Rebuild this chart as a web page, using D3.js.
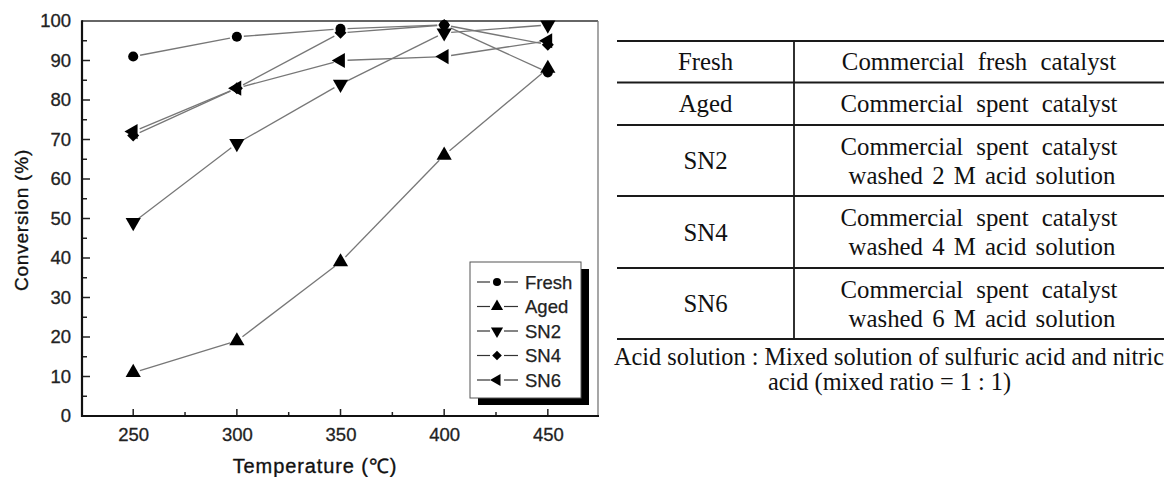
<!DOCTYPE html>
<html><head><meta charset="utf-8">
<script src="https://cdn.jsdelivr.net/npm/d3@7"></script>
<style>
html,body{margin:0;padding:0;background:#fff;}
svg{display:block;}
</style></head>
<body>
<svg id="c" width="1164" height="477"></svg>
<script>
// ---- data ----
const temperatures = [250, 300, 350, 400, 450];
const seriesNames = ["Fresh", "Aged", "SN2", "SN4", "SN6"];
const fresh = [91, 96, 98, 99, 87];
const aged  = [11, 19, 39, 66, 88];
const sn2   = [49, 69, 84, 97, 99];
const sn4   = [71, 83, 97, 99, 94];
const sn6   = [72, 83, 90, 91, 95];
const xTicks = [250, 300, 350, 400, 450];
const yTicks = [0, 10, 20, 30, 40, 50, 60, 70, 80, 90, 100];
const xTitle = "Temperature (℃)";
const yTitle = "Conversion (%)";
const tableLabels = ["Fresh", "Aged", "SN2", "SN4", "SN6"];
const tableDescLine1 = ["Commercial fresh catalyst", "Commercial spent catalyst", "Commercial spent catalyst", "Commercial spent catalyst", "Commercial spent catalyst"];
const tableDescLine2 = ["", "", "washed 2 M acid solution", "washed 4 M acid solution", "washed 6 M acid solution"];
const footnote1 = "Acid solution : Mixed solution of sulfuric acid and nitric";
const footnote2 = "acid (mixed ratio = 1 : 1)";

const seriesValues = [fresh, aged, sn2, sn4, sn6];
const svg = d3.select("#c");

// ---- chart ----
const L = 82, R = 598, T = 21, B = 416;
const x = d3.scaleLinear().domain([225.3, 474.2]).range([L, R]);
const y = d3.scaleLinear().domain([0, 100]).range([B, T]);
const sansFont = "'Liberation Sans', Arial, sans-serif";

// frame top/right
svg.append("line").attr("x1", L).attr("x2", R).attr("y1", T).attr("y2", T).attr("stroke", "#333").attr("stroke-width", 1.6);
svg.append("line").attr("x1", R).attr("x2", R).attr("y1", T).attr("y2", B).attr("stroke", "#777").attr("stroke-width", 1.3);

// axes
const yAxis = d3.axisLeft(y).tickValues(yTicks).tickSize(0).tickPadding(11);
const gy = svg.append("g").attr("transform", `translate(${L},0)`).call(yAxis);
gy.select(".domain").remove();
gy.selectAll("text").attr("font-family", sansFont).attr("font-size", 18.5).attr("fill", "#222")
  .attr("stroke", "#222").attr("stroke-width", 0.3);
const yMinor = d3.range(5, 100, 10);
svg.append("g").selectAll("line").data(yTicks.filter(d => d > 0 && d < 100)).join("line")
  .attr("x1", L).attr("x2", L + 8).attr("y1", d => y(d)).attr("y2", d => y(d)).attr("stroke", "#222").attr("stroke-width", 1.5);
svg.append("g").selectAll("line").data(yMinor).join("line")
  .attr("x1", L).attr("x2", L + 5).attr("y1", d => y(d)).attr("y2", d => y(d)).attr("stroke", "#222").attr("stroke-width", 1.5);

const xAxis = d3.axisBottom(x).tickValues(xTicks).tickFormat(d3.format("d")).tickSize(0).tickPadding(12);
const gx = svg.append("g").attr("transform", `translate(0,${B})`).call(xAxis);
gx.select(".domain").remove();
gx.selectAll("text").attr("font-family", sansFont).attr("font-size", 18.5).attr("fill", "#222")
  .attr("stroke", "#222").attr("stroke-width", 0.3);
svg.append("g").selectAll("line").data(xTicks).join("line")
  .attr("x1", d => x(d)).attr("x2", d => x(d)).attr("y1", B).attr("y2", B - 7).attr("stroke", "#222").attr("stroke-width", 1.5);
svg.append("g").selectAll("line").data([275, 325, 375, 425]).join("line")
  .attr("x1", d => x(d)).attr("x2", d => x(d)).attr("y1", B).attr("y2", B - 4).attr("stroke", "#222").attr("stroke-width", 1.5);

// axis lines (left, bottom)
svg.append("line").attr("x1", L).attr("x2", L).attr("y1", T - 0.8).attr("y2", B + 1).attr("stroke", "#111").attr("stroke-width", 2.2);
svg.append("line").attr("x1", L - 1).attr("x2", R + 1).attr("y1", B).attr("y2", B).attr("stroke", "#111").attr("stroke-width", 2.2);

// titles
svg.append("text").attr("x", 315).attr("y", 473).attr("text-anchor", "middle")
  .attr("font-family", sansFont).attr("font-size", 20).attr("letter-spacing", 0.9).attr("fill", "#111")
  .attr("stroke", "#111").attr("stroke-width", 0.35).text(xTitle);
svg.append("text").attr("transform", "translate(28,220) rotate(-90)").attr("text-anchor", "middle")
  .attr("font-family", sansFont).attr("font-size", 19).attr("letter-spacing", 0.8).attr("fill", "#111")
  .attr("stroke", "#111").attr("stroke-width", 0.35).text(yTitle);

// symbols
const symCircle = d3.symbol().type(d3.symbolCircle).size(80);
const symTri = d3.symbol().type(d3.symbolTriangle).size(100);
const symSq = d3.symbol().type(d3.symbolSquare).size(72);
const markers = [
  {path: symCircle(), rot: 0},
  {path: symTri(), rot: 0},
  {path: symTri(), rot: 180},
  {path: symSq(), rot: 45},
  {path: symTri(), rot: -90}
];

// lines with gaps near markers
const gap = 7;
seriesValues.forEach((vals, si) => {
  const pts = temperatures.map((t, i) => [x(t), y(vals[i])]);
  const segs = [];
  for (let i = 0; i < pts.length - 1; i++) {
    const [x1, y1] = pts[i], [x2, y2] = pts[i + 1];
    const len = Math.hypot(x2 - x1, y2 - y1);
    if (len <= 2 * gap) continue;
    const ux = (x2 - x1) / len, uy = (y2 - y1) / len;
    segs.push([x1 + ux * gap, y1 + uy * gap, x2 - ux * gap, y2 - uy * gap]);
  }
  svg.append("g").selectAll("line").data(segs).join("line")
    .attr("x1", d => d[0]).attr("y1", d => d[1]).attr("x2", d => d[2]).attr("y2", d => d[3])
    .attr("stroke", "#777").attr("stroke-width", 1.3);
});
seriesValues.forEach((vals, si) => {
  svg.append("g").selectAll("path").data(vals).join("path")
    .attr("d", markers[si].path)
    .attr("transform", (d, i) => `translate(${x(temperatures[i])},${y(d)}) rotate(${markers[si].rot})`)
    .attr("fill", "#000");
});

// legend
const lgX = 470, lgY = 262, lgW = 111, lgH = 136;
svg.append("rect").attr("x", lgX + 8).attr("y", lgY + 7).attr("width", lgW).attr("height", lgH).attr("fill", "#000");
svg.append("rect").attr("x", lgX).attr("y", lgY).attr("width", lgW).attr("height", lgH).attr("fill", "#fff").attr("stroke", "#555").attr("stroke-width", 1);
seriesNames.forEach((name, i) => {
  const cy = lgY + 20 + i * 24.5;
  const g = svg.append("g");
  g.append("line").attr("x1", 477).attr("x2", 490).attr("y1", cy).attr("y2", cy).attr("stroke", "#333").attr("stroke-width", 1.2);
  g.append("line").attr("x1", 504).attr("x2", 518).attr("y1", cy).attr("y2", cy).attr("stroke", "#333").attr("stroke-width", 1.2);
  g.append("path").attr("d", markers[i].path).attr("transform", `translate(497,${cy}) rotate(${markers[i].rot}) scale(0.8)`).attr("fill", "#000");
  g.append("text").attr("x", 525).attr("y", cy + 6.5).attr("font-family", sansFont).attr("font-size", 18.5).attr("fill", "#222")
    .attr("stroke", "#222").attr("stroke-width", 0.25).text(name);
});

// ---- table ----
const serif = "'Liberation Serif', 'Times New Roman', serif";
const tL = 617, tR = 1164, tDiv = 794;
const rowLines = [41, 82.5, 125, 196, 268, 339];
const fs = 24.8;
rowLines.forEach(yy => {
  svg.append("line").attr("x1", tL).attr("x2", tR).attr("y1", yy).attr("y2", yy).attr("stroke", "#1a1a1a").attr("stroke-width", 1.8);
});
svg.append("line").attr("x1", tDiv).attr("x2", tDiv).attr("y1", 41).attr("y2", 339).attr("stroke", "#1a1a1a").attr("stroke-width", 1.8);
tableLabels.forEach((lab, i) => {
  const cy = (rowLines[i] + rowLines[i + 1]) / 2;
  svg.append("text").attr("x", (tL + tDiv) / 2).attr("y", cy + 8.5).attr("text-anchor", "middle")
    .attr("font-family", serif).attr("font-size", fs).attr("fill", "#111").text(lab);
  const cx = (tDiv + tR) / 2;
  if (tableDescLine2[i]) {
    svg.append("text").attr("x", cx).attr("y", cy - 6).attr("text-anchor", "middle").attr("word-spacing", 7)
      .attr("font-family", serif).attr("font-size", fs).attr("fill", "#111").text(tableDescLine1[i]);
    svg.append("text").attr("x", cx + 3).attr("y", cy + 23).attr("text-anchor", "middle").attr("word-spacing", 3)
      .attr("font-family", serif).attr("font-size", fs).attr("fill", "#111").text(tableDescLine2[i]);
  } else {
    svg.append("text").attr("x", cx).attr("y", cy + 8.5).attr("text-anchor", "middle").attr("word-spacing", 7)
      .attr("font-family", serif).attr("font-size", fs).attr("fill", "#111").text(tableDescLine1[i]);
  }
});
svg.append("text").attr("x", 614).attr("y", 365).attr("font-family", serif).attr("font-size", 24.3).attr("fill", "#111").text(footnote1);
svg.append("text").attr("x", 768).attr("y", 390).attr("font-family", serif).attr("font-size", 24.3).attr("fill", "#111").text(footnote2);
</script>
</body></html>
